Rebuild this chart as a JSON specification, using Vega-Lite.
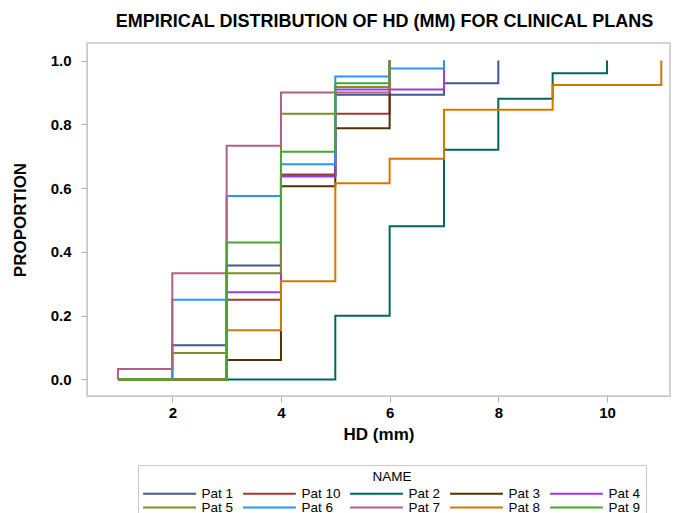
{
  "$schema": "https://vega.github.io/schema/vega-lite/v6.json",
  "width": 583,
  "height": 353,
  "autosize": "none",
  "padding": {"left": 87, "top": 43, "right": 9, "bottom": 117},
  "background": "white",
  "title": {
    "text": "EMPIRICAL DISTRIBUTION OF HD (MM) FOR CLINICAL PLANS",
    "font": "Liberation Sans",
    "fontSize": 18,
    "fontWeight": "bold",
    "color": "black",
    "anchor": "middle",
    "frame": "group",
    "dx": 6,
    "offset": 12
  },
  "config": {
    "view": {"stroke": "#c8c8c8", "strokeWidth": 1.5},
    "axis": {
      "grid": false,
      "labelFont": "Liberation Sans",
      "labelFontWeight": "bold",
      "labelFontSize": 15,
      "labelColor": "black",
      "titleFont": "Liberation Sans",
      "titleFontWeight": "bold",
      "titleFontSize": 17,
      "titleColor": "black",
      "domainColor": "#c8c8c8",
      "tickColor": "#b0b0b0",
      "tickSize": 6
    }
  },
  "data": {
    "values": [
      {"name": "Pat 1", "hd": 1, "p": 0},
      {"name": "Pat 1", "hd": 2, "p": 0.107},
      {"name": "Pat 1", "hd": 3, "p": 0.357},
      {"name": "Pat 1", "hd": 4, "p": 0.643},
      {"name": "Pat 1", "hd": 5, "p": 0.893},
      {"name": "Pat 1", "hd": 7, "p": 0.929},
      {"name": "Pat 1", "hd": 8, "p": 1},
      {"name": "Pat 10", "hd": 1, "p": 0},
      {"name": "Pat 10", "hd": 3, "p": 0.25},
      {"name": "Pat 10", "hd": 4, "p": 0.64},
      {"name": "Pat 10", "hd": 5, "p": 0.833},
      {"name": "Pat 10", "hd": 6, "p": 1},
      {"name": "Pat 2", "hd": 1, "p": 0},
      {"name": "Pat 2", "hd": 5, "p": 0.2},
      {"name": "Pat 2", "hd": 6, "p": 0.48},
      {"name": "Pat 2", "hd": 7, "p": 0.72},
      {"name": "Pat 2", "hd": 8, "p": 0.88},
      {"name": "Pat 2", "hd": 9, "p": 0.96},
      {"name": "Pat 2", "hd": 10, "p": 1},
      {"name": "Pat 3", "hd": 1, "p": 0},
      {"name": "Pat 3", "hd": 3, "p": 0.061},
      {"name": "Pat 3", "hd": 4, "p": 0.606},
      {"name": "Pat 3", "hd": 5, "p": 0.788},
      {"name": "Pat 3", "hd": 6, "p": 1},
      {"name": "Pat 4", "hd": 1, "p": 0},
      {"name": "Pat 4", "hd": 3, "p": 0.273},
      {"name": "Pat 4", "hd": 4, "p": 0.636},
      {"name": "Pat 4", "hd": 5, "p": 0.909},
      {"name": "Pat 4", "hd": 7, "p": 1},
      {"name": "Pat 5", "hd": 1, "p": 0},
      {"name": "Pat 5", "hd": 2, "p": 0.083},
      {"name": "Pat 5", "hd": 3, "p": 0.333},
      {"name": "Pat 5", "hd": 4, "p": 0.833},
      {"name": "Pat 5", "hd": 5, "p": 0.917},
      {"name": "Pat 5", "hd": 6, "p": 1},
      {"name": "Pat 6", "hd": 1, "p": 0},
      {"name": "Pat 6", "hd": 2, "p": 0.25},
      {"name": "Pat 6", "hd": 3, "p": 0.575},
      {"name": "Pat 6", "hd": 4, "p": 0.675},
      {"name": "Pat 6", "hd": 5, "p": 0.95},
      {"name": "Pat 6", "hd": 6, "p": 0.975},
      {"name": "Pat 6", "hd": 7, "p": 1},
      {"name": "Pat 7", "hd": 1, "p": 0},
      {"name": "Pat 7", "hd": 1, "p": 0.033},
      {"name": "Pat 7", "hd": 2, "p": 0.333},
      {"name": "Pat 7", "hd": 3, "p": 0.733},
      {"name": "Pat 7", "hd": 4, "p": 0.9},
      {"name": "Pat 7", "hd": 6, "p": 1},
      {"name": "Pat 8", "hd": 1, "p": 0},
      {"name": "Pat 8", "hd": 3, "p": 0.154},
      {"name": "Pat 8", "hd": 4, "p": 0.308},
      {"name": "Pat 8", "hd": 5, "p": 0.615},
      {"name": "Pat 8", "hd": 6, "p": 0.692},
      {"name": "Pat 8", "hd": 7, "p": 0.846},
      {"name": "Pat 8", "hd": 9, "p": 0.923},
      {"name": "Pat 8", "hd": 11, "p": 1},
      {"name": "Pat 9", "hd": 1, "p": 0},
      {"name": "Pat 9", "hd": 3, "p": 0.429},
      {"name": "Pat 9", "hd": 4, "p": 0.714},
      {"name": "Pat 9", "hd": 5, "p": 0.929},
      {"name": "Pat 9", "hd": 6, "p": 1}
    ]
  },
  "mark": {"type": "line", "interpolate": "step-after", "strokeWidth": 2},
  "encoding": {
    "x": {
      "field": "hd",
      "type": "quantitative",
      "title": "HD (mm)",
      "scale": {"domain": [0.43, 11.16], "nice": false, "zero": false},
      "axis": {"values": [2, 4, 6, 8, 10], "labelPadding": 3, "titlePadding": 6}
    },
    "y": {
      "field": "p",
      "type": "quantitative",
      "title": "PROPORTION",
      "scale": {"domain": [-0.052, 1.055], "nice": false, "zero": false},
      "axis": {"values": [0, 0.2, 0.4, 0.6, 0.8, 1.0], "format": ".1f", "labelPadding": 10, "titlePadding": 21}
    },
    "color": {
      "field": "name",
      "type": "nominal",
      "title": "NAME",
      "scale": {
        "domain": ["Pat 1", "Pat 10", "Pat 2", "Pat 3", "Pat 4", "Pat 5", "Pat 6", "Pat 7", "Pat 8", "Pat 9"],
        "range": ["#445694", "#A23A2E", "#01665E", "#543005", "#9D3CDB", "#7F8E1F", "#2597FA", "#B26084", "#D17800", "#47A82A"]
      },
      "legend": {
        "orient": "none",
        "legendX": 51,
        "legendY": 422,
        "direction": "horizontal",
        "columns": 5,
        "symbolType": "M-4.4,0H4.4",
        "symbolSize": 144,
        "symbolStrokeWidth": 2,
        "symbolOffset": 19.5,
        "labelFont": "Liberation Sans",
        "labelFontSize": 13.5,
        "labelColor": "black",
        "labelOffset": 25,
        "titleFont": "Liberation Sans",
        "titleFontSize": 13.5,
        "titleFontWeight": "normal",
        "titleColor": "black",
        "titleAnchor": "middle",
        "titlePadding": 3,
        "columnPadding": 5,
        "rowPadding": -1,
        "strokeColor": "#c8c8c8",
        "padding": 5
      }
    }
  }
}
